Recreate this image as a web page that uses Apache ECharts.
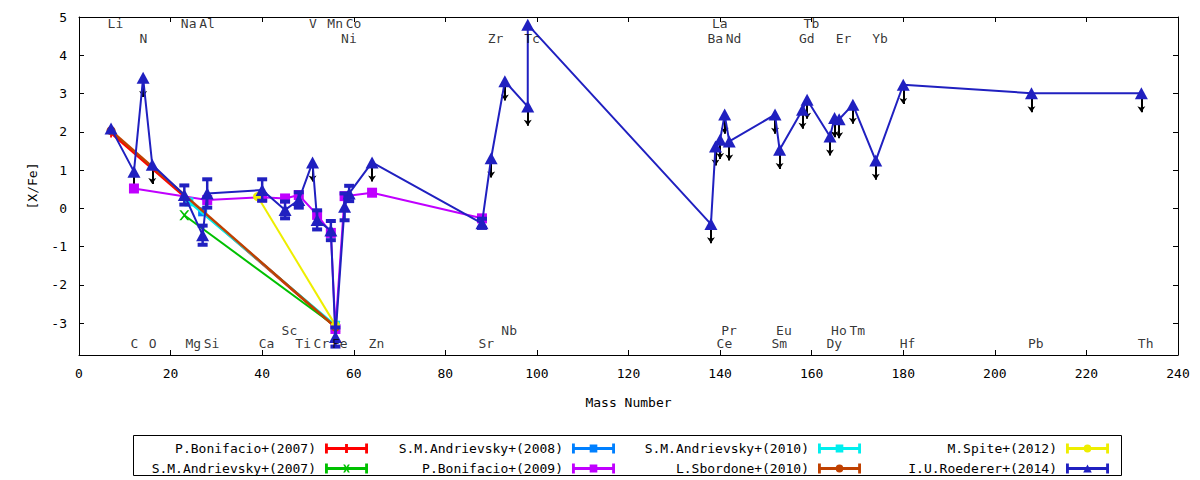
<!DOCTYPE html>
<html>
<head>
<meta charset="utf-8">
<script src="https://cdn.jsdelivr.net/npm/echarts@6/dist/echarts.min.js"></script>
<style>
  html, body { margin: 0; padding: 0; background: #fff; }
  #main { width: 1200px; height: 480px; }
</style>
</head>
<body>
<div id="main"></div>
<script>
// ---- data ----
var seriesNames = ['P.Bonifacio+(2007)', 'S.M.Andrievsky+(2007)', 'S.M.Andrievsky+(2008)', 'P.Bonifacio+(2009)',
                   'S.M.Andrievsky+(2010)', 'L.Sbordone+(2010)', 'M.Spite+(2012)', 'I.U.Roederer+(2014)'];

var bonifacio07Mass = [7, 56];
var bonifacio07Val  = [1.97, -3.1];

var andrievsky07Mass = [23, 56];
var andrievsky07Val  = [-0.18, -3.08];

var andrievsky08Mass = [27, 56];
var andrievsky08Val  = [-0.09, -3.08];

var bonifacio09Mass = [12, 28, 40, 45, 48, 52, 55, 56, 58, 64, 88];
var bonifacio09Val  = [0.52, 0.22, 0.29, 0.26, 0.35, -0.17, -0.64, -3.15, 0.32, 0.41, -0.26];

var andrievsky10Mass = [24, 56];
var andrievsky10Val  = [0.17, -3.05];

var sbordone10Mass = [7, 56];
var sbordone10Val  = [2.03, -3.1];

var spite12Mass = [39, 56];
var spite12Val  = [0.31, -3.05];

var roedererMass = [7, 12, 14, 16, 23, 27, 28, 40, 45, 48, 51, 52, 55, 56, 58, 59, 64, 88, 90, 93, 98, 98,
                    138, 139, 140, 141, 142, 152, 153, 158, 159, 164, 165, 166, 169, 174, 180, 208, 232];
var roedererVal  = [2.09, 0.96, 3.41, 1.14, 0.35, -0.7, 0.39, 0.48, -0.04, 0.22, 1.2, -0.3, -0.58, -3.36, 0.04, 0.39, 1.2,
                    -0.39, 1.31, 3.32, 2.66, 4.8, -0.41, 1.62, 1.79, 2.45, 1.75, 2.45, 1.53, 2.58, 2.84, 1.88, 2.36, 2.33,
                    2.71, 1.25, 3.23, 3.01, 3.01];
var roedererErr  = [0, 0, 0, 0, 0.25, 0.25, 0.37, 0.28, 0.22, 0.2, 0, 0.25, 0.25, 0.25, 0.35, 0.2, 0,
                    0.12, 0, 0, 0, 0, 0, 0, 0, 0, 0, 0, 0, 0, 0, 0, 0, 0, 0, 0, 0, 0, 0];
var roedererUpper = [0, 1, 1, 1, 0, 0, 0, 0, 0, 0, 1, 0, 0, 0, 0, 0, 1,
                     0, 1, 1, 1, 0, 1, 1, 1, 1, 1, 1, 1, 1, 1, 1, 1, 1, 1, 1, 1, 1, 1];

// element labels along the top and bottom of the plot
var elemNames = ['Li', 'Na', 'Al', 'V', 'Mn', 'Co', 'La', 'Tb',
                 'N', 'Ni', 'Zr', 'Tc', 'Ba', 'Nd', 'Gd', 'Er', 'Yb',
                 'Sc', 'Nb', 'Pr', 'Eu', 'Ho', 'Tm',
                 'C', 'O', 'Mg', 'Si', 'Ca', 'Ti', 'Cr', 'Fe', 'Zn', 'Sr', 'Ce', 'Sm', 'Dy', 'Hf', 'Pb', 'Th'];
var elemMass  = [7, 23, 27, 51, 55, 59, 139, 159,
                 14, 58, 90, 98, 138, 142, 158, 166, 174,
                 45, 93, 141, 153, 165, 169,
                 12, 16, 24, 28, 40, 48, 52, 56, 64, 88, 140, 152, 164, 180, 208, 232];
var elemRow   = ['t1', 't1', 't1', 't1', 't1', 't1', 't1', 't1',
                 't2', 't2', 't2', 't2', 't2', 't2', 't2', 't2', 't2',
                 'b2', 'b2', 'b2', 'b2', 'b2', 'b2',
                 'b1', 'b1', 'b1', 'b1', 'b1', 'b1', 'b1', 'b1', 'b1', 'b1', 'b1', 'b1', 'b1', 'b1', 'b1', 'b1'];

var xTicks = [0, 20, 40, 60, 80, 100, 120, 140, 160, 180, 200, 220, 240];
var yTicks = [-3, -2, -1, 0, 1, 2, 3, 4, 5];

// ---- layout / styles ----
var FONT = 'DejaVu Sans Mono';
var rowY = { t1: 4.83, t2: 4.45, b2: -3.2, b1: -3.54 };
var colors = ['#ff0000', '#00c000', '#0080ff', '#c000ff', '#00eeee', '#c04000', '#eeee00', '#2020c0'];
var widths = [2.5, 2, 2, 2, 2, 2.5, 2, 2];

var plusPath = 'path://M4,0h2v10h-2z M0,4h10v2h-10z';
var crossPath = 'path://M0,0L2,0L5,3.5L8,0L10,0L6,5L10,10L8,10L5,6.5L2,10L0,10L4,5z';
var symbols = [plusPath, crossPath, 'rect', 'rect', 'rect', 'circle', 'circle', 'triangle'];
var symbolSizes = [9, 10, 9, 10, 9, 9, 9, [13, 12]];

var base = 'M0,3.5h45v3h-45z M0,0h3v10h-3z M42,0h3v10h-3z ';
var legendIcons = [
  'path://' + base + 'M21,0.5h3v9h-3z',
  'path://' + base + 'M19,1L21,1L22.5,3.5L24,1L26,1L23.5,5L26,9L24,9L22.5,6.5L21,9L19,9L21.5,5z',
  'path://' + base + 'M18.5,1h8v8h-8z',
  'path://' + base + 'M18.5,1h8v8h-8z',
  'path://' + base + 'M18.5,1h8v8h-8z',
  'path://' + base + 'M18.5,5a4,4 0 1,1 8,0a4,4 0 1,1 -8,0z',
  'path://' + base + 'M18.5,5a4,4 0 1,1 8,0a4,4 0 1,1 -8,0z',
  'path://' + base + 'M18,9L22.5,1L27,9z'
];
var legendRight = [827, 827, 580, 580, 334, 334, 86, 86];
var legendTop = [437, 457, 437, 457, 437, 457, 437, 457];

function pairs(xs, ys) {
  return xs.map(function (x, i) { return [x, ys[i]]; });
}

var allMass = [bonifacio07Mass, andrievsky07Mass, andrievsky08Mass, bonifacio09Mass,
               andrievsky10Mass, sbordone10Mass, spite12Mass, roedererMass];
var allVal = [bonifacio07Val, andrievsky07Val, andrievsky08Val, bonifacio09Val,
              andrievsky10Val, sbordone10Val, spite12Val, roedererVal];

var series = seriesNames.map(function (name, i) {
  return {
    name: name,
    type: 'line',
    data: pairs(allMass[i], allVal[i]),
    color: colors[i],
    symbol: symbols[i],
    symbolSize: symbolSizes[i],
    showAllSymbol: true,
    lineStyle: { width: widths[i], color: colors[i] },
    itemStyle: { color: colors[i], borderWidth: 0 },
    emphasis: { disabled: true },
    z: 3 + i * 0.1
  };
});

// error bars for the Roederer points
var errData = [];
roedererMass.forEach(function (m, i) {
  if (roedererErr[i] > 0) errData.push([m, roedererVal[i], roedererErr[i]]);
});
series.push({
  name: '_err',
  type: 'custom',
  data: errData,
  z: 4,
  silent: true,
  renderItem: function (params, api) {
    var x = api.value(0), y = api.value(1), e = api.value(2);
    var top = api.coord([x, y + e]);
    var bot = api.coord([x, y - e]);
    var st = { stroke: '#2020c0', lineWidth: 2.5 };
    var cap = { stroke: '#2020c0', lineWidth: 4 };
    return {
      type: 'group',
      children: [
        { type: 'line', shape: { x1: top[0], y1: top[1], x2: bot[0], y2: bot[1] }, style: st },
        { type: 'line', shape: { x1: top[0] - 5, y1: top[1], x2: top[0] + 5, y2: top[1] }, style: cap },
        { type: 'line', shape: { x1: bot[0] - 5, y1: bot[1], x2: bot[0] + 5, y2: bot[1] }, style: cap }
      ]
    };
  }
});

// upper-limit arrows
var arrowData = [];
roedererMass.forEach(function (m, i) {
  if (roedererUpper[i]) arrowData.push({ coords: [[m, roedererVal[i]], [m, roedererVal[i] - 0.5]] });
});
series.push({
  name: '_lim',
  type: 'lines',
  coordinateSystem: 'cartesian2d',
  data: arrowData,
  symbol: ['none', 'arrow'],
  symbolSize: [4, 6],
  lineStyle: { color: '#000', width: 2, opacity: 1 },
  silent: true,
  z: 2
});

// element labels
series.push({
  name: '_elem',
  type: 'scatter',
  data: elemNames.map(function (n, i) { return { name: n, value: [elemMass[i], rowY[elemRow[i]]] }; }),
  symbolSize: 1,
  itemStyle: { color: 'rgba(0,0,0,0)' },
  silent: true,
  z: 6,
  label: {
    show: true,
    position: 'inside',
    align: 'left',
    verticalAlign: 'middle',
    offset: [-3.5, 0],
    formatter: '{b}',
    color: '#000',
    fontFamily: FONT,
    fontSize: 13,
    lineHeight: 13
  }
});

var legends = seriesNames.map(function (name, i) {
  return {
    data: [{ name: name, icon: legendIcons[i] }],
    right: legendRight[i],
    top: legendTop[i],
    align: 'right',
    itemWidth: 43,
    itemHeight: 10,
    symbolKeepAspect: false,
    selectedMode: false,
    itemStyle: { borderWidth: 0 },
    textStyle: { color: '#000', fontFamily: FONT, fontSize: 13, padding: [0, 4, 0, 0] }
  };
});

var axisCommonX = {
  type: 'value', min: xTicks[0], max: xTicks[xTicks.length - 1], interval: xTicks[1] - xTicks[0],
  splitLine: { show: false },
  axisLine: { show: true, onZero: false, lineStyle: { color: '#000', width: 1 } },
  axisTick: { show: true, inside: true, length: 5, lineStyle: { color: '#000' } }
};
var axisCommonY = {
  type: 'value', min: -3.83, max: yTicks[yTicks.length - 1], splitNumber: 9,
  splitLine: { show: false },
  axisLine: { show: true, onZero: false, lineStyle: { color: '#000', width: 1 } },
  axisTick: { show: true, inside: true, length: 5, lineStyle: { color: '#000' } }
};

var chart = echarts.init(document.getElementById('main'), null, { renderer: 'svg' });
chart.setOption({
  animation: false,
  backgroundColor: '#fff',
  grid: { left: 79, right: 22, top: 17, bottom: 125 },
  xAxis: [
    Object.assign({}, axisCommonX, {
      position: 'bottom',
      name: 'Mass Number', nameLocation: 'middle', nameGap: 41,
      nameTextStyle: { color: '#000', fontFamily: FONT, fontSize: 13 },
      axisLabel: { color: '#000', fontFamily: FONT, fontSize: 13, margin: 12 }
    }),
    Object.assign({}, axisCommonX, { position: 'top', axisLabel: { show: false } })
  ],
  yAxis: [
    Object.assign({}, axisCommonY, {
      position: 'left',
      name: '[X/Fe]', nameLocation: 'middle', nameGap: 40,
      nameTextStyle: { color: '#000', fontFamily: FONT, fontSize: 13 },
      axisLabel: {
        color: '#000', fontFamily: FONT, fontSize: 13, margin: 12, showMinLabel: false,
        formatter: function (v) { return yTicks.indexOf(v) >= 0 ? String(v) : ''; }
      }
    }),
    Object.assign({}, axisCommonY, { position: 'right', axisLabel: { show: false } })
  ],
  legend: legends,
  graphic: [{
    type: 'rect',
    shape: { x: 133.5, y: 435.5, width: 988, height: 40 },
    style: { fill: 'none', stroke: '#000', lineWidth: 1 },
    silent: true
  }],
  series: series
});
</script>
</body>
</html>
